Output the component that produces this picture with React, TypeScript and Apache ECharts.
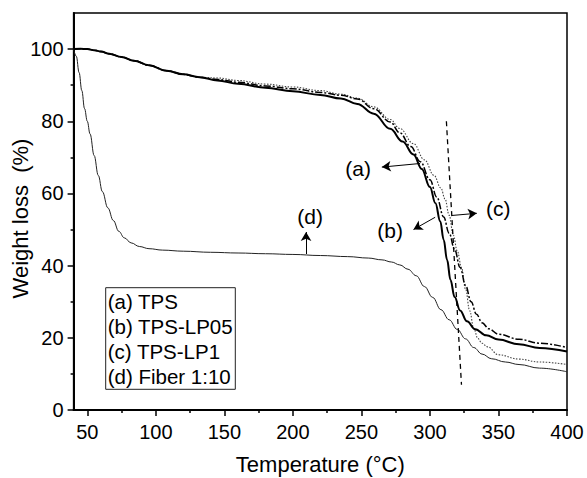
import React, { useEffect, useRef } from "react";
import * as echarts from "echarts";

// ---- data ----
const commonT = [40, 45, 50, 55, 60, 66, 75, 84, 95, 108, 120, 132];
const commonW = [100, 100.1, 100, 99.7, 99.3, 98.7, 97.8, 96.8, 95.5, 94, 93, 92.2];

// (a) TPS – dash-dot
const tpsT = [...commonT, 145, 160, 180, 200, 220, 235, 247, 259, 271, 278, 286, 293, 300, 305, 310, 314, 318, 322, 326, 330, 334, 338, 343, 350, 365, 380, 400];
const tpsW = [...commonW, 91.6, 90.8, 89.8, 89, 88, 87.2, 86.2, 83.5, 79.8, 76.8, 73, 68.8, 63.8, 59, 53.5, 49, 44.5, 39.5, 34.5, 30, 26.5, 24.2, 22.5, 21, 19.6, 18.5, 17.3];

// (b) TPS-LP05 – thick solid
const lp05T = [...commonT, 145, 160, 180, 200, 220, 235, 247, 259, 271, 280, 288, 294, 300, 304, 307.5, 310, 312.5, 315, 318, 322, 327, 333, 341, 350, 365, 380, 400];
const lp05W = [...commonW, 91.3, 90.4, 89.3, 88.3, 87.3, 86.3, 84.8, 82.1, 77.9, 74.4, 70.8, 66.8, 61.8, 57.3, 52.3, 47.2, 41.6, 36, 31.3, 27.6, 24.6, 22.4, 20.7, 19.5, 18.2, 17.2, 16.2];

// (c) TPS-LP1 – dotted
const lp1T = [...commonT, 145, 160, 180, 200, 220, 235, 247, 259, 271, 278, 288, 296, 303, 308, 311, 314, 317, 320, 323, 326, 329, 332, 335, 338, 342, 350, 365, 380, 400];
const lp1W = [...commonW, 92, 91.3, 90.3, 89.5, 88.5, 87.5, 86.4, 84, 80.5, 78, 73.8, 69.3, 65, 61.5, 58.5, 54, 48.5, 44, 39.5, 33.5, 27.5, 22.5, 19.8, 18.5, 17.5, 15.3, 14.1, 13.3, 12.6];

// (d) Fiber 1:10 – thin solid
const fiberT = [40, 42, 44, 46, 48, 50, 52, 55, 58, 61, 65, 69, 73, 77, 82, 88, 95, 105, 120, 140, 160, 180, 200, 220, 240, 255, 265, 272, 278, 284, 290, 296, 302, 308, 314, 320, 326, 332, 338, 345, 355, 365, 380, 400];
const fiberW = [100, 98, 93.5, 88.5, 83.5, 80, 76.5, 70.5, 65, 60.5, 56, 52.5, 49.5, 47.7, 46.3, 45.3, 44.7, 44.3, 44, 43.7, 43.5, 43.3, 43.1, 42.8, 42.5, 42.1, 41.6, 41, 40.2, 39, 37.2, 34.2, 31.2, 27.8, 25, 22.3, 19.7, 17.3, 15.5, 14.2, 13.3, 12.6, 11.6, 10.6];

// dashed guide line
const guideT = [312, 323];
const guideW = [80, 7];

// ticks
const xMajor = [50, 100, 150, 200, 250, 300, 350, 400];
const xMinor = [75, 125, 175, 225, 275, 325, 375];
const yMajor = [0, 20, 40, 60, 80, 100];
const yMinor = [10, 30, 50, 70, 90];

const legendItems = ["(a) TPS", "(b) TPS-LP05", "(c) TPS-LP1", "(d) Fiber 1:10"];

// annotations (data coords)
const annLabels = ["(a)", "(b)", "(c)", "(d)"];
const annTextPos = [[247.6, 66.9], [270.9, 49.8], [349.8, 55.9], [212.6, 53.6]];
const annArrowFrom = [[292.8, 68.3], [303.8, 53.4], [316, 53.9], [209.6, 43.2]];
const annArrowTo = [[264.9, 67.3], [288, 50], [334.2, 54.5], [209.6, 49.3]];

const FONT = "'Liberation Sans', Arial, Helvetica, sans-serif";

const zip = (t: number[], w: number[]) => t.map((v, i) => [v, w[i]]);

export default function App() {
  const ref = useRef<HTMLDivElement>(null);
  useEffect(() => {
    const chart = echarts.init(ref.current!, null, { renderer: "svg" });
    const axisLineStyle = { color: "#000", width: 2 };
    const tickStyle = { color: "#000", width: 1.5 };
    const option: any = {
      animation: false,
      backgroundColor: "#fff",
      grid: {
        left: 73.6, right: 20, top: 13, bottom: 68, show: true, borderColor: "#000", borderWidth: 1.5,
        backgroundColor: "transparent", containLabel: false, outerBoundsMode: "none",
      },
      xAxis: [
        {
          type: "value", min: 40, max: 400, position: "bottom",
          axisLine: { show: true, onZero: false, lineStyle: axisLineStyle },
          axisTick: { show: true, inside: false, length: 6, lineStyle: tickStyle, customValues: xMajor },
          axisLabel: { show: true, customValues: xMajor, fontSize: 20, color: "#000", fontFamily: FONT, margin: 12 },
          splitLine: { show: false },
          name: "Temperature (°C)", nameLocation: "middle", nameGap: 43, nameMoveOverlap: false,
          nameTextStyle: { fontSize: 22, color: "#000", fontFamily: FONT },
        },
        {
          type: "value", min: 40, max: 400, position: "bottom",
          axisLine: { show: false, onZero: false },
          axisTick: { show: true, inside: false, length: 3, lineStyle: tickStyle, customValues: xMinor },
          axisLabel: { show: false },
          splitLine: { show: false },
        },
      ],
      yAxis: [
        {
          type: "value", min: 0, max: 110, position: "left",
          axisLine: { show: true, onZero: false, lineStyle: axisLineStyle },
          axisTick: { show: true, inside: false, length: 6, lineStyle: tickStyle, customValues: yMajor },
          axisLabel: { show: true, customValues: yMajor, fontSize: 20, color: "#000", fontFamily: FONT, margin: 10 },
          splitLine: { show: false },
          name: "Weight loss  (%)", nameLocation: "middle", nameGap: 42, nameMoveOverlap: false,
          nameTextStyle: { fontSize: 22, color: "#000", fontFamily: FONT, padding: [0, 14, 0, 0] },
        },
        {
          type: "value", min: 0, max: 110, position: "left",
          axisLine: { show: false, onZero: false },
          axisTick: { show: true, inside: false, length: 3, lineStyle: tickStyle, customValues: yMinor },
          axisLabel: { show: false },
          splitLine: { show: false },
        },
      ],
      series: [
        {
          name: "(d) Fiber 1:10", type: "line", data: zip(fiberT, fiberW), showSymbol: false,
          smooth: 0.4, smoothMonotone: "x", lineStyle: { color: "#222", width: 1 }, silent: true,
          markLine: {
            silent: true, symbol: ["none", "arrow"], symbolSize: [8, 9],
            lineStyle: { color: "#000", width: 1, type: "solid" },
            label: { show: false },
            data: annArrowFrom.map((f, i) => [{ coord: f }, { coord: annArrowTo[i] }]),
          },
        },
        {
          name: "(c) TPS-LP1", type: "line", data: zip(lp1T, lp1W), showSymbol: false,
          smooth: 0.4, smoothMonotone: "x", lineStyle: { color: "#444", width: 1.1, type: [1.5, 1.5] }, silent: true,
        },
        {
          name: "(a) TPS", type: "line", data: zip(tpsT, tpsW), showSymbol: false,
          smooth: 0.4, smoothMonotone: "x", lineStyle: { color: "#000", width: 1.5, type: [7, 2, 2, 2] }, silent: true,
        },
        {
          name: "(b) TPS-LP05", type: "line", data: zip(lp05T, lp05W), showSymbol: false,
          smooth: 0.4, smoothMonotone: "x", lineStyle: { color: "#000", width: 2 }, silent: true,
        },
        {
          name: "guide", type: "line", data: zip(guideT, guideW), showSymbol: false,
          lineStyle: { color: "#000", width: 1.3, type: [5, 4] }, silent: true,
        },
      ],
    };
    chart.setOption(option);

    const graphics: any[] = [];
    annLabels.forEach((lab, i) => {
      const p = chart.convertToPixel({ seriesIndex: 0 }, annTextPos[i]) as number[];
      graphics.push({
        type: "text", x: p[0], y: p[1],
        style: { text: lab, fontSize: 21, fontFamily: FONT, fill: "#000", align: "center", verticalAlign: "middle" },
      });
    });
    // legend box
    const lx = 105.7, ly = 287.7, lw = 129.6, lh = 101.6;
    graphics.push({ type: "rect", shape: { x: lx, y: ly, width: lw, height: lh }, style: { fill: "#fff", stroke: "#222", lineWidth: 1 } });
    legendItems.forEach((t, i) => {
      graphics.push({
        type: "text", x: lx + 2, y: ly + 13.5 + i * 25,
        style: { text: t, fontSize: 20.5, fontFamily: FONT, fill: "#000", align: "left", verticalAlign: "middle" },
      });
    });
    chart.setOption({ graphic: graphics });

    return () => chart.dispose();
  }, []);
  return <div ref={ref} style={{ position: "absolute", left: 0, top: 0, width: 587, height: 478 }} />;
}
